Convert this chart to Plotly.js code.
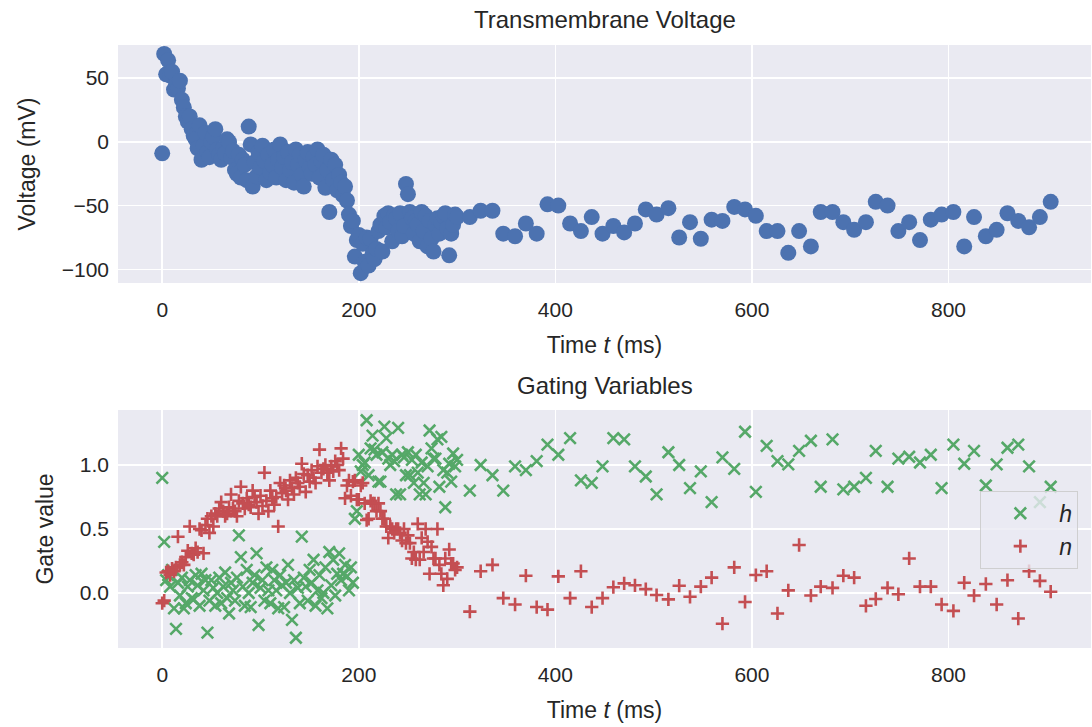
<!DOCTYPE html>
<html>
<head>
<meta charset="utf-8">
<script src="https://cdn.plot.ly/plotly-3.0.1.min.js"></script>
<style>
  html, body { margin: 0; padding: 0; background: #ffffff; }
  #chart { width: 1092px; height: 727px; }
</style>
</head>
<body>
<div id="chart"></div>
<script>
// Sample times (ms): fine sampling during the transient, coarser afterwards
const timeFine = [
  0, 2, 4, 6, 8, 10, 12, 14, 16, 18, 20, 22, 24, 26, 28, 30, 32, 34, 36, 38,
  40, 42, 44, 46, 48, 50, 52, 54, 56, 58, 60, 62, 64, 66, 68, 70, 72, 74, 76, 78,
  80, 82, 84, 86, 88, 90, 92, 94, 96, 98, 100, 102, 104, 106, 108, 110, 112, 114, 116, 118,
  120, 122, 124, 126, 128, 130, 132, 134, 136, 138, 140, 142, 144, 146, 148, 150, 152, 154, 156, 158,
  160, 162, 164, 166, 168, 170, 172, 174, 176, 178, 180, 182, 184, 186, 188, 190, 192, 194, 196, 198,
  200, 202, 204, 206, 208, 210, 212, 214, 216, 218, 220, 222, 224, 226, 228, 230, 232, 234, 236, 238,
  240, 242, 244, 246, 248, 250, 252, 254, 256, 258, 260, 262, 264, 266, 268, 270, 272, 274, 276, 278,
  280, 282, 284, 286, 288, 290, 292, 294, 296, 298, 300
];
const timeCoarse = [
  313, 324, 336, 347, 359, 370, 381, 392, 403, 415, 426, 437, 448, 459, 470, 481, 492, 503, 515, 526,
  537, 548, 559, 570, 582, 593, 604, 615, 626, 637, 648, 660, 670, 682, 693, 704, 716, 726, 738, 749,
  760, 771, 782, 793, 805, 816, 826, 838, 849, 860, 871, 882, 893, 904
];

// Transmembrane voltage (mV)
const voltageFine = [
  -9, 69, 53, 64, 52, 55, 41, 45, 42, 48, 33, 27, 20, 16, 20, 10, 5, 2, -5, 13,
  -14, -3, 7, -8, -12, 0, 4, 10, -6, -10, -14, -5, -9, 2, 0, -12, -7, -22, -25, -10,
  -28, -14, -18, -30, 12, -2, -35, -16, -27, -8, -20, -3, -15, -30, -10, -24, -18, -6, -28, -14,
  -2, -20, -12, -30, -8, -22, -16, -32, -6, -18, -10, -26, -35, -14, -8, -20, -25, -12, -18, -6,
  -28, -15, -10, -36, -22, -55, -14, -30, -18, -38, -26, -32, -42, -35, -46, -57, -66, -62, -90, -77,
  -73, -103, -80, -94, -75, -97, -76, -88, -92, -84, -70, -65, -86, -58, -67, -56, -63, -78, -58, -60,
  -70, -56, -74, -66, -33, -41, -55, -60, -72, -62, -65, -78, -55, -70, -58, -82, -62, -76, -86, -65,
  -60, -72, -63, -58, -56, -68, -89, -72, -65, -57, -59
];
const voltageCoarse = [
  -59, -54, -54, -72, -74, -64, -72, -49, -50, -64, -70, -59, -72, -66, -71, -64, -53, -57, -52, -75,
  -63, -76, -61, -62, -51, -53, -58, -70, -70, -87, -70, -82, -55, -55, -63, -69, -63, -47, -50, -70,
  -63, -77, -61, -57, -55, -82, -59, -74, -69, -56, -62, -67, -59, -47
];

// Gating variable h
const hFine = [
  0.90, 0.40, 0.10, 0.14, 0.05, 0.18, -0.12, -0.28, 0.08, -0.02, 0.12, -0.12, -0.08, 0.05, 0.10, -0.04, -0.05, 0.14, 0.06, -0.10,
  0.15, 0.02, 0.10, -0.31, -0.06, 0.10, 0.04, -0.10, 0.00, 0.12, -0.08, 0.05, 0.16, -0.04, -0.16, 0.08, 0.02, -0.06, 0.12, 0.45,
  0.28, 0.05, -0.10, 0.18, 0.00, -0.11, 0.08, 0.14, 0.31, -0.25, 0.04, 0.10, -0.06, 0.20, 0.02, -0.08, 0.18, 0.10, 0.02, -0.12,
  0.14, 0.06, -0.11, 0.08, 0.22, 0.00, -0.21, 0.10, -0.35, 0.04, -0.08, 0.44, 0.12, 0.05, -0.06, 0.18, 0.08, 0.26, -0.10, 0.02,
  0.14, -0.04, 0.00, 0.20, -0.12, 0.32, 0.06, 0.26, -0.02, 0.15, 0.31, 0.10, 0.15, 0.22, 0.13, 0.02, 0.20, 0.08, 0.58, 0.64,
  1.08, 0.95, 1.00, 1.02, 1.35, 0.92, 1.13, 1.23, 1.12, 1.08, 0.87, 0.87, 1.10, 1.30, 1.21, 1.05, 1.00, 1.08, 1.03, 0.77,
  1.29, 0.77, 1.08, 1.06, 0.92, 1.10, 0.92, 1.04, 0.86, 1.08, 0.94, 0.77, 1.02, 0.86, 0.77, 0.99, 1.27, 1.13, 1.05, 1.05,
  1.20, 0.83, 1.22, 0.96, 0.67, 0.94, 1.01, 0.87, 1.09, 0.99, 1.04
];
const hCoarse = [
  0.80, 1.00, 0.92, 0.80, 0.99, 0.96, 1.03, 1.16, 1.08, 1.21, 0.88, 0.86, 0.99, 1.21, 1.20, 0.99, 0.91, 0.77, 1.10, 1.00,
  0.82, 0.95, 0.71, 1.06, 0.97, 1.26, 0.79, 1.15, 1.03, 1.005, 1.11, 1.19, 0.83, 1.20, 0.81, 0.83, 0.90, 1.11, 0.83, 1.05,
  1.065, 1.02, 1.08, 0.82, 1.16, 1.01, 1.11, 0.84, 1.005, 1.135, 1.16, 0.99, 0.71, 0.83
];

// Gating variable n
const nFine = [
  -0.08, -0.06, 0.16, 0.17, 0.14, 0.19, 0.17, 0.20, 0.44, 0.22, 0.24, 0.22, 0.28, 0.33, 0.52, 0.31, 0.30, 0.35, 0.32, 0.50,
  0.49, 0.31, 0.53, 0.58, 0.47, 0.60, 0.52, 0.62, 0.60, 0.66, 0.71, 0.64, 0.60, 0.62, 0.67, 0.77, 0.66, 0.64, 0.60, 0.72,
  0.83, 0.70, 0.66, 0.74, 0.69, 0.67, 0.80, 0.75, 0.71, 0.62, 0.76, 0.68, 0.94, 0.72, 0.64, 0.80, 0.74, 0.69, 0.75, 0.52,
  0.86, 0.78, 0.84, 0.80, 0.73, 0.88, 0.82, 0.77, 0.90, 0.86, 0.83, 1.01, 0.93, 0.79, 0.92, 0.87, 0.96, 0.90, 0.86, 0.99,
  1.12, 0.94, 0.97, 1.00, 0.94, 0.88, 0.99, 0.95, 1.03, 1.00, 0.96, 1.13, 1.05, 0.74, 0.84, 0.88, 0.76, 0.87, 0.88, 0.73,
  0.73, 0.84, 0.86, 0.70, 0.57, 0.58, 0.72, 0.70, 0.70, 0.64, 0.70, 0.64, 0.58, 0.58, 0.52, 0.43, 0.52, 0.50, 0.47, 0.50,
  0.50, 0.47, 0.41, 0.50, 0.39, 0.45, 0.39, 0.27, 0.32, 0.26, 0.54, 0.26, 0.43, 0.32, 0.50, 0.40, 0.15, 0.36, 0.27, 0.27,
  0.50, 0.22, 0.15, 0.06, 0.27, 0.11, 0.34, 0.23, 0.23, 0.18, 0.20
];
const nCoarse = [
  -0.146, 0.17, 0.22, -0.04, -0.09, 0.135, -0.11, -0.13, 0.13, -0.04, 0.17, -0.11, -0.04, 0.045, 0.075, 0.06, 0.03, -0.016, -0.05, 0.057,
  -0.03, 0.05, 0.12, -0.24, 0.20, -0.07, 0.14, 0.17, -0.16, 0.02, 0.375, -0.02, 0.05, 0.04, 0.135, 0.12, -0.10, -0.047, 0.04, -0.01,
  0.27, 0.05, 0.05, -0.09, -0.14, 0.08, -0.02, 0.07, -0.09, 0.10, -0.20, 0.17, 0.095, 0.01
];

const time = timeFine.concat(timeCoarse);
const voltage = voltageFine.concat(voltageCoarse);
const hGate = hFine.concat(hCoarse);
const nGate = nFine.concat(nCoarse);

const FONT = 'Liberation Sans, Arial, DejaVu Sans, sans-serif';
const INK = '#262626';
const BLUE = '#4C72B0', GREEN = '#55A868', RED = '#C44E52';

const traces = [
  {
    type: 'scatter', mode: 'markers', x: time, y: voltage,
    xaxis: 'x', yaxis: 'y', showlegend: false,
    marker: { symbol: 'circle', size: 16, color: BLUE, line: { width: 0 } }
  },
  {
    type: 'scatter', mode: 'markers', x: time, y: hGate, name: '<i>h</i>',
    xaxis: 'x2', yaxis: 'y2',
    marker: { symbol: 'x-thin', size: 11.5, color: GREEN, line: { color: GREEN, width: 2.6 } }
  },
  {
    type: 'scatter', mode: 'markers', x: time, y: nGate, name: '<i>n</i>',
    xaxis: 'x2', yaxis: 'y2',
    marker: { symbol: 'cross-thin', size: 9.5, color: RED, line: { color: RED, width: 2.6 } }
  }
];

const TICK_FONT = { family: FONT, size: 21, color: INK };
const LABEL_FONT = { family: FONT, size: 23, color: INK };

function xAxis(anchor) {
  return {
    anchor: anchor, domain: [0, 1], range: [-45, 945],
    tickvals: [0, 200, 400, 600, 800],
    showgrid: true, gridcolor: '#ffffff', gridwidth: 1.6,
    zeroline: false, showline: false, ticks: '',
    ticklabelstandoff: 12,
    tickfont: TICK_FONT,
    title: { text: 'Time <i>t</i> (ms)', font: LABEL_FONT, standoff: 16 }
  };
}

const layout = {
  width: 1092, height: 727,
  margin: { l: 118, r: 1, t: 45, b: 79 },
  paper_bgcolor: '#ffffff', plot_bgcolor: '#EAEAF2',
  font: { family: FONT, color: INK },
  xaxis: xAxis('y'),
  xaxis2: xAxis('y2'),
  yaxis: {
    anchor: 'x', domain: [0.6053, 1], range: [-110.7, 76],
    tickvals: [-100, -50, 0, 50],
    showgrid: true, gridcolor: '#ffffff', gridwidth: 1.6,
    zeroline: false, showline: false, ticks: '',
    ticklabelstandoff: 8,
    tickfont: TICK_FONT,
    title: { text: 'Voltage (mV)', font: LABEL_FONT, standoff: 19 }
  },
  yaxis2: {
    anchor: 'x2', domain: [0, 0.3947], range: [-0.43, 1.43],
    tickvals: [0, 0.5, 1], tickformat: '.1f',
    showgrid: true, gridcolor: '#ffffff', gridwidth: 1.6,
    zeroline: false, showline: false, ticks: '',
    ticklabelstandoff: 8,
    tickfont: TICK_FONT,
    title: { text: 'Gate value', font: LABEL_FONT, standoff: 19 }
  },
  legend: {
    x: 0.987, xanchor: 'right', y: 0.196, yanchor: 'middle',
    bgcolor: 'rgba(234,234,242,0.8)', bordercolor: 'rgba(204,204,204,0.9)', borderwidth: 1,
    font: { family: FONT, size: 23, color: INK },
    itemwidth: 68, tracegroupgap: 2
  },
  annotations: [
    {
      text: 'Transmembrane Voltage', xref: 'paper', yref: 'paper', x: 0.5, y: 1.0415,
      xanchor: 'center', yanchor: 'middle', showarrow: false,
      font: { family: FONT, size: 24, color: INK }
    },
    {
      text: 'Gating Variables', xref: 'paper', yref: 'paper', x: 0.5, y: 0.4345,
      xanchor: 'center', yanchor: 'middle', showarrow: false,
      font: { family: FONT, size: 24, color: INK }
    }
  ]
};

Plotly.newPlot('chart', traces, layout, { displayModeBar: false, staticPlot: true });
</script>
</body>
</html>
